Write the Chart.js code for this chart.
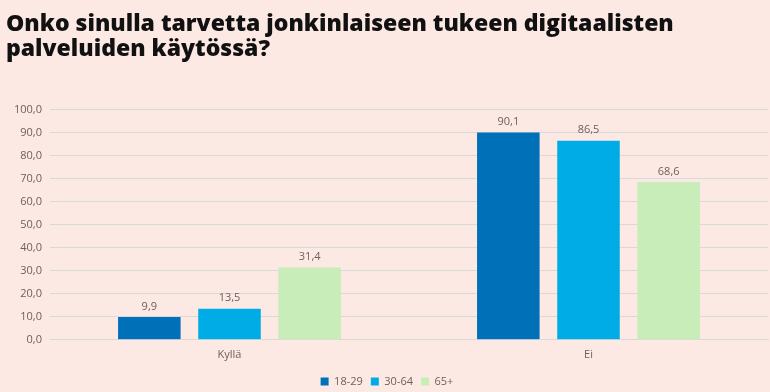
<!DOCTYPE html>
<html>
<head>
<meta charset="utf-8">
<script src="https://cdn.jsdelivr.net/npm/chart.js@4"></script>
<style>
  html, body { margin: 0; padding: 0; background: #fde9e4; }
  #wrap { width: 770px; height: 392px; position: relative; }
</style>
</head>
<body>
<div id="wrap"><canvas id="chart"></canvas></div>
<script>
const categories = ["Kyllä", "Ei"];
const groups = ["18-29", "30-64", "65+"];
const values_18_29 = [9.9, 90.1];
const values_30_64 = [13.5, 86.5];
const values_65 = [31.4, 68.6];
const colors = ["#0070b8", "#00ace6", "#c9edb8"];
const titleLines = ["Onko sinulla tarvetta jonkinlaiseen tukeen digitaalisten", "palveluiden käytössä?"];

const fmt = v => v.toFixed(1).replace(".", ",");

// labels above each bar, like the original
const barLabels = {
  id: "barLabels",
  afterDatasetsDraw(chart) {
    const ctx = chart.ctx;
    ctx.save();
    ctx.font = "11px 'Open Sans', sans-serif";
    ctx.fillStyle = "#6e5e5e";
    ctx.textAlign = "center";
    ctx.textBaseline = "bottom";
    chart.data.datasets.forEach((ds, i) => {
      chart.getDatasetMeta(i).data.forEach((bar, j) => {
        ctx.fillText(fmt(ds.data[j]), bar.x, bar.y - 5);
      });
    });
    ctx.restore();
  }
};

new Chart(document.getElementById("chart").getContext("2d"), {
  type: "bar",
  data: {
    labels: categories,
    datasets: [
      { label: groups[0], data: values_18_29, backgroundColor: colors[0] },
      { label: groups[1], data: values_30_64, backgroundColor: colors[1] },
      { label: groups[2], data: values_65, backgroundColor: colors[2] }
    ]
  },
  options: {
    responsive: true,
    maintainAspectRatio: false,
    animation: false,
    layout: { padding: { left: 6, right: 2, top: 0, bottom: -5 } },
    datasets: { bar: { categoryPercentage: 0.67, barPercentage: 0.78 } },
    plugins: {
      title: {
        display: true,
        text: titleLines,
        align: "start",
        color: "#111",
        font: { family: "'Open Sans'", size: 23, weight: "800", lineHeight: 1.1 },
        padding: { top: 12, bottom: 47 }
      },
      legend: {
        position: "bottom",
        labels: {
          boxWidth: 8, boxHeight: 8,
          color: "#6e5e5e",
          font: { family: "'Open Sans', sans-serif", size: 11 },
          padding: 8
        }
      },
      tooltip: { enabled: false }
    },
    scales: {
      x: {
        grid: { display: false },
        border: { color: "#d9d9d9" },
        ticks: { color: "#6e5e5e", font: { family: "'Open Sans', sans-serif", size: 11 }, padding: 0 },
        afterFit: s => { s.height += 7; }
      },
      y: {
        min: 0, max: 100,
        ticks: {
          stepSize: 10,
          color: "#6e5e5e",
          font: { family: "'Open Sans', sans-serif", size: 11 },
          callback: v => fmt(v),
          padding: 8
        },
        grid: { color: "#d9d9d9", drawTicks: false },
        border: { display: false }
      }
    }
  },
  plugins: [barLabels]
});
</script>
</body>
</html>
